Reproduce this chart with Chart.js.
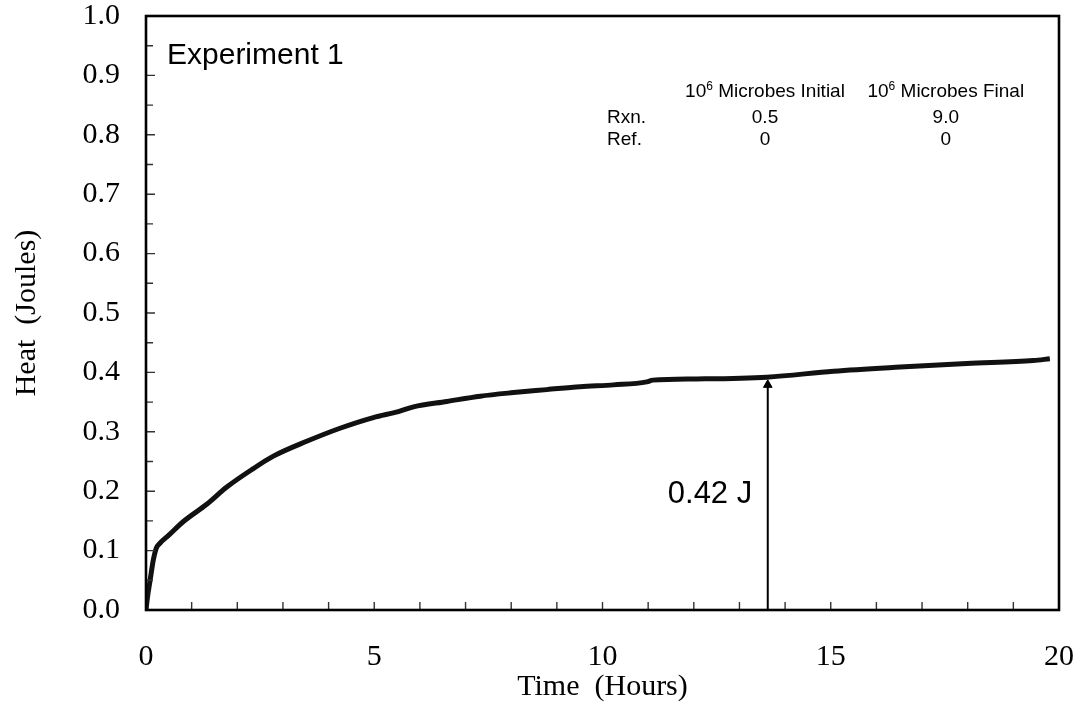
<!DOCTYPE html>
<html>
<head>
<meta charset="utf-8">
<title>Experiment 1 - Heat</title>
<script src="https://cdn.jsdelivr.net/npm/chart.js@4.4.1/dist/chart.umd.min.js"></script>
<style>
    body { margin: 0; background: #ffffff; }
    canvas { display: block; }
</style>
</head>
<body>
<canvas id="heatChart" width="1082" height="710"></canvas>
<script>
// Data kurva panas
const timeHours = [0, 0.03, 0.09, 0.16, 0.23, 0.3, 0.5, 0.82, 1.33, 1.77, 2.35, 2.79, 3.52, 4.25, 4.98, 5.53, 5.86, 6.59, 7.32, 8.05, 8.78, 9.51, 10.24, 10.97, 11.1, 12.06, 13.6, 15.06, 16.52, 17.98, 19.44, 19.8];
const heatJoules = [0, 0.02, 0.05, 0.084, 0.105, 0.112, 0.126, 0.149, 0.178, 0.207, 0.238, 0.259, 0.284, 0.306, 0.324, 0.334, 0.342, 0.351, 0.36, 0.366, 0.371, 0.376, 0.379, 0.384, 0.387, 0.389, 0.392, 0.402, 0.409, 0.415, 0.42, 0.423];

// Panah penanda 0.42 J
const arrowHour = 13.62;
const arrowTop = 0.384;
const arrowHeadY = 0.379;
const arrowLabel = "0.42 J";

// Tabel jumlah mikroba
const tableColumns = ["Microbes Initial", "Microbes Final"];
const tableRows = ["Rxn.", "Ref."];
const tableValues = [["0.5", "9.0"], ["0", "0"]];
const experimentTitle = "Experiment 1";

// Label sumbu
const xTickLabels = [0, 5, 10, 15, 20];
const yTickLabels = [0, 0.1, 0.2, 0.3, 0.4, 0.5, 0.6, 0.7, 0.8, 0.9, 1.0];

const serif = "'Liberation Serif', 'Times New Roman', serif";
const sans = "'Liberation Sans', Arial, sans-serif";

// Bingkai plot + tick ke arah dalam
const framePlugin = {
    id: 'frame',
    afterDatasetsDraw(chart) {
        const { ctx, chartArea: a, scales: { x, y } } = chart;
        ctx.save();
        ctx.strokeStyle = '#333';
        ctx.lineWidth = 1.4;
        ctx.beginPath();
        for (let i = 0; i <= 20; i++) {
            const px = x.getPixelForValue(i);
            ctx.moveTo(px, a.bottom);
            ctx.lineTo(px, a.bottom - 8);
        }
        for (let i = 0; i <= 20; i++) {
            const py = y.getPixelForValue(i * 0.05);
            const len = i % 2 === 0 ? 9 : 7;
            ctx.moveTo(a.left, py);
            ctx.lineTo(a.left + len, py);
        }
        ctx.stroke();

        ctx.strokeStyle = '#000';
        ctx.lineWidth = 2.6;
        ctx.strokeRect(a.left, a.top, a.right - a.left, a.bottom - a.top);
        ctx.restore();
    }
};

// Teks anotasi: judul eksperimen, tabel, label panah
const notesPlugin = {
    id: 'notes',
    afterDraw(chart) {
        const { ctx, scales: { x, y } } = chart;
        ctx.save();
        ctx.fillStyle = '#000';
        ctx.textBaseline = 'alphabetic';

        ctx.font = `30px ${sans}`;
        ctx.textAlign = 'left';
        ctx.fillText(experimentTitle, x.getPixelForValue(0.46), y.getPixelForValue(0.919));

        ctx.textAlign = 'left';
        ctx.font = `31px ${sans}`;
        ctx.textBaseline = 'middle';
        ctx.fillText(arrowLabel, x.getPixelForValue(11.43), y.getPixelForValue(0.195));

        // header tabel dengan pangkat 10^6
        ctx.textBaseline = 'alphabetic';
        const colCenters = [13.56, 17.52];
        const headerY = y.getPixelForValue(0.864);
        tableColumns.forEach((col, i) => {
            ctx.font = `19px ${sans}`;
            const wBase = ctx.measureText("10").width;
            const wRest = ctx.measureText(" " + col).width;
            ctx.font = `12px ${sans}`;
            const wSup = ctx.measureText("6").width;
            let px = x.getPixelForValue(colCenters[i]) - (wBase + wSup + wRest) / 2;
            ctx.textAlign = 'left';
            ctx.font = `19px ${sans}`;
            ctx.fillText("10", px, headerY);
            px += wBase;
            ctx.font = `12px ${sans}`;
            ctx.fillText("6", px, headerY - 7);
            px += wSup;
            ctx.font = `19px ${sans}`;
            ctx.fillText(" " + col, px, headerY);
        });

        const rowY = [0.82, 0.783];
        tableRows.forEach((row, r) => {
            const py = y.getPixelForValue(rowY[r]);
            ctx.font = `19px ${sans}`;
            ctx.textAlign = 'left';
            ctx.fillText(row, x.getPixelForValue(10.1), py);
            ctx.textAlign = 'center';
            tableValues[r].forEach((v, c) => {
                ctx.fillText(v, x.getPixelForValue(colCenters[c]), py);
            });
        });
        ctx.restore();
    }
};

const ctx = document.getElementById('heatChart').getContext('2d');
new Chart(ctx, {
    type: 'line',
    data: {
        datasets: [
            {
                data: timeHours.map((t, i) => ({ x: t, y: heatJoules[i] })),
                borderColor: '#111',
                borderWidth: 5,
                pointRadius: 0,
                cubicInterpolationMode: 'monotone'
            },
            {
                data: [{ x: arrowHour, y: 0 }, { x: arrowHour, y: arrowTop }],
                borderColor: '#000',
                borderWidth: 2,
                pointRadius: 0
            },
            {
                data: [{ x: arrowHour, y: arrowHeadY }],
                showLine: false,
                pointStyle: 'triangle',
                pointRadius: 5,
                backgroundColor: '#000',
                borderColor: '#000',
                borderWidth: 1
            }
        ]
    },
    options: {
        responsive: false,
        animation: false,
        layout: { padding: { top: 16, right: 23, left: 0, bottom: 0 } },
        plugins: { legend: { display: false }, tooltip: { enabled: false } },
        scales: {
            x: {
                type: 'linear',
                min: 0,
                max: 20,
                grid: { display: false, drawTicks: false },
                border: { display: false },
                title: {
                    display: true,
                    text: 'Time  (Hours)',
                    color: '#000',
                    font: { family: serif, size: 30, lineHeight: 1 },
                    padding: { top: 0, bottom: 8 }
                },
                ticks: {
                    stepSize: 1,
                    autoSkip: false,
                    maxRotation: 0,
                    padding: 32,
                    color: '#000',
                    font: { family: serif, size: 30, lineHeight: 1 },
                    callback: v => xTickLabels.includes(v) ? String(v) : ''
                },
                afterFit(scale) {
                    scale.height = 100;
                    scale.paddingLeft = 0;
                    scale.paddingRight = 0;
                }
            },
            y: {
                min: 0,
                max: 1,
                grid: { display: false, drawTicks: false },
                border: { display: false },
                title: {
                    display: true,
                    text: 'Heat  (Joules)',
                    color: '#000',
                    font: { family: serif, size: 30, lineHeight: 1 },
                    padding: { top: 12, bottom: 0 }
                },
                ticks: {
                    stepSize: 0.05,
                    autoSkip: false,
                    padding: 26,
                    color: '#000',
                    font: { family: serif, size: 30, lineHeight: 1 },
                    callback: v => {
                        const r = Math.round(v * 100) / 100;
                        return yTickLabels.some(t => Math.abs(t - r) < 1e-6) ? r.toFixed(1) : '';
                    }
                },
                afterFit(scale) {
                    scale.width = 146;
                    scale.paddingTop = 0;
                    scale.paddingBottom = 0;
                }
            }
        }
    },
    plugins: [framePlugin, notesPlugin]
});
</script>
</body>
</html>
